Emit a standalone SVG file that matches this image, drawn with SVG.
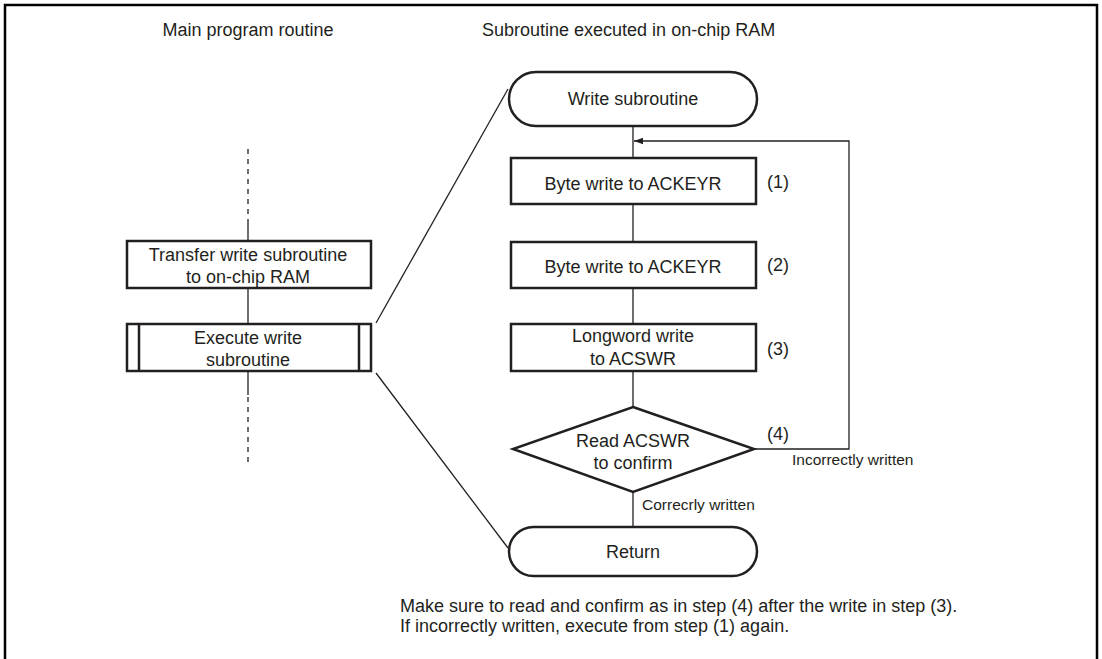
<svg xmlns="http://www.w3.org/2000/svg" width="1102" height="659" viewBox="0 0 1102 659">
<style>
text{font-family:"Liberation Sans",Arial,Helvetica,sans-serif;fill:#231f20;font-size:18px}
.m{text-anchor:middle}
.s{font-size:15.5px}
.box{fill:#fff;stroke:#231f20;stroke-width:2.5}
.ln{fill:none;stroke:#231f20;stroke-width:1.3}
.dash{fill:none;stroke:#231f20;stroke-width:1.3;stroke-dasharray:5 5}
</style>
<defs>
<marker id="arr" markerWidth="10" markerHeight="8" refX="9" refY="4" orient="auto" markerUnits="userSpaceOnUse">
<path d="M0,0.8 L9,4 L0,7.2 Z" fill="#231f20"/>
</marker>
</defs>
<rect width="1102" height="659" fill="#fff"/>
<path d="M5,659 V5 H1097 V659" fill="none" stroke="#000" stroke-width="2.5"/>
<text class="m" x="248" y="36">Main program routine</text>
<text x="482" y="36">Subroutine executed in on-chip RAM</text>
<g id="connectors">
<line class="dash" x1="248" y1="149" x2="248" y2="221"/>
<line class="ln" x1="248" y1="221" x2="248" y2="241"/>
<line class="ln" x1="248" y1="288" x2="248" y2="324"/>
<line class="ln" x1="248" y1="371" x2="248" y2="395"/>
<line class="dash" x1="248" y1="397" x2="248" y2="467"/>
<line class="ln" x1="376" y1="323" x2="508" y2="89"/>
<line class="ln" x1="376" y1="373" x2="508" y2="548"/>
<line class="ln" x1="633" y1="126" x2="633" y2="158"/>
<line class="ln" x1="633" y1="204" x2="633" y2="242"/>
<line class="ln" x1="633" y1="288" x2="633" y2="324"/>
<line class="ln" x1="633" y1="371" x2="633" y2="407"/>
<line class="ln" x1="633" y1="492" x2="633" y2="527"/>
<polyline class="ln" points="754,449 849,449 849,141 634,141" marker-end="url(#arr)"/>
<text class="s" x="642" y="510">Correcrly written</text>
<text class="s" x="792" y="465">Incorrectly written</text>
</g>
<g id="transfer">
<rect class="box" x="127" y="241" width="244" height="47"/>
<text class="m" x="248" y="261">Transfer write subroutine</text>
<text class="m" x="248" y="283">to on-chip RAM</text>
</g>
<g id="execute">
<rect class="box" x="127" y="324" width="244" height="47"/>
<line class="box" x1="139" y1="324" x2="139" y2="371"/>
<line class="box" x1="359" y1="324" x2="359" y2="371"/>
<text class="m" x="248" y="344">Execute write</text>
<text class="m" x="248" y="366">subroutine</text>
</g>
<g id="write-sub">
<rect class="box" x="509" y="72" width="248" height="54" rx="27" ry="27"/>
<text class="m" x="633" y="105">Write subroutine</text>
</g>
<g id="step1">
<rect class="box" x="511" y="158" width="245" height="46"/>
<text class="m" x="633" y="190">Byte write to ACKEYR</text>
<text x="767" y="188">(1)</text>
</g>
<g id="step2">
<rect class="box" x="511" y="242" width="245" height="46"/>
<text class="m" x="633" y="273">Byte write to ACKEYR</text>
<text x="767" y="271">(2)</text>
</g>
<g id="step3">
<rect class="box" x="511" y="324" width="245" height="47"/>
<text class="m" x="633" y="342">Longword write</text>
<text class="m" x="633" y="365">to ACSWR</text>
<text x="767" y="355">(3)</text>
</g>
<g id="step4">
<polygon class="box" points="633,407 754,449 633,492 513,449"/>
<text class="m" x="633" y="447">Read ACSWR</text>
<text class="m" x="633" y="469">to confirm</text>
<text x="767" y="440">(4)</text>
</g>
<g id="return">
<rect class="box" x="509" y="527" width="248" height="49" rx="24.5" ry="24.5"/>
<text class="m" x="633" y="558">Return</text>
</g>
<g id="note">
<text x="400" y="612">Make sure to read and confirm as in step (4) after the write in step (3).</text>
<text x="400" y="632">If incorrectly written, execute from step (1) again.</text>
</g>
</svg>
